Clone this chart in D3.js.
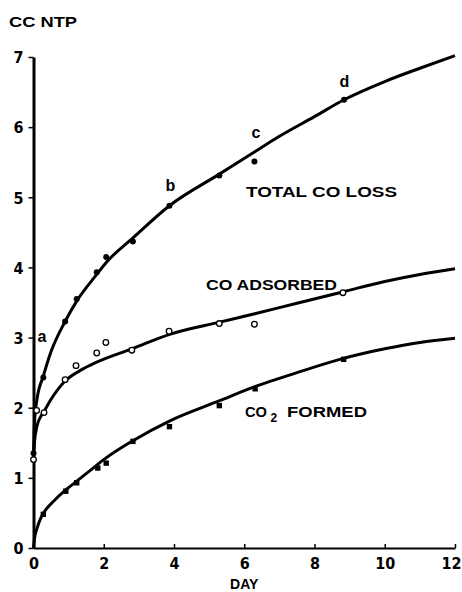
<!DOCTYPE html>
<html>
<head>
<meta charset="utf-8">
<script src="https://cdn.jsdelivr.net/npm/d3@7"></script>
<style>
  body { margin: 0; background: #fff; }
  svg { display: block; }
  .tick text { font-family: "Liberation Sans Narrow", "DejaVu Sans Condensed", "Arial Narrow", sans-serif; font-weight: bold; font-size: 16px; fill: #000; }
  .lbl { font-family: "Liberation Sans", Arial, sans-serif; font-weight: bold; fill: #000; }
</style>
</head>
<body>
<script>
'use strict';

// measured points (day, cc NTP)
var totalDays   = [0, 0.28, 0.9, 1.23, 1.8, 2.07, 2.83, 3.87, 5.29, 6.29, 8.84];
var totalValues = [1.35, 2.43, 3.23, 3.55, 3.93, 4.15, 4.37, 4.88, 5.31, 5.51, 6.39];

var adsorbedDays   = [0, 0.09, 0.3, 0.9, 1.21, 1.8, 2.06, 2.8, 3.86, 5.29, 6.29, 8.81];
var adsorbedValues = [1.26, 1.96, 1.93, 2.4, 2.6, 2.78, 2.93, 2.82, 3.09, 3.2, 3.19, 3.64];

var co2Days   = [0.28, 0.92, 1.23, 1.83, 2.07, 2.83, 3.87, 5.29, 6.31, 8.83];
var co2Values = [0.48, 0.81, 0.93, 1.14, 1.21, 1.52, 1.73, 2.03, 2.27, 2.69];

// smooth curves as drawn on the figure
var totalCurveDays   = [0, 0.03, 0.1, 0.28, 0.5, 0.9, 1.23, 1.8, 2.07, 2.83, 3.87, 5.29, 6.3, 7, 8, 8.84, 10, 11, 12];
var totalCurveValues = [1.3, 1.8, 2.12, 2.45, 2.8, 3.23, 3.52, 3.9, 4.07, 4.42, 4.88, 5.33, 5.65, 5.87, 6.15, 6.39, 6.65, 6.84, 7.02];

var adsorbedCurveDays   = [0, 0.03, 0.1, 0.2, 0.3, 0.5, 0.9, 1.4, 1.8, 2.8, 3.9, 5.3, 6.3, 7.5, 8.8, 10, 11, 12];
var adsorbedCurveValues = [1.3, 1.52, 1.74, 1.87, 1.95, 2.12, 2.38, 2.55, 2.65, 2.84, 3.05, 3.22, 3.34, 3.49, 3.65, 3.8, 3.9, 3.98];

var co2CurveDays   = [0, 0.03, 0.1, 0.2, 0.3, 0.6, 0.9, 1.25, 1.6, 2, 2.83, 3.87, 5.3, 6.3, 7.5, 8.8, 10, 11, 12];
var co2CurveValues = [0, 0.14, 0.28, 0.42, 0.51, 0.68, 0.82, 0.96, 1.1, 1.26, 1.53, 1.81, 2.1, 2.3, 2.5, 2.7, 2.84, 2.93, 2.99];

var xTicks = [0, 2, 4, 6, 8, 10, 12];
var yTicks = [0, 1, 2, 3, 4, 5, 6, 7];

// letters marked on the total curve
var markLetters = ['a', 'b', 'c', 'd'];
var markDays    = [0.24, 3.9, 6.33, 8.85];
var markValues  = [3.02, 5.17, 5.92, 6.65];

var W = 462, H = 592;

var svg = d3.select('body').append('svg')
    .attr('width', W).attr('height', H);

var x = d3.scaleLinear().domain([0, 12]).range([33.5, 455]);
var y = d3.scaleLinear().domain([0, 7]).range([548, 57]);

// x axis, ticks pointing up
var xAxis = svg.append('g')
    .attr('transform', 'translate(0,' + y(0) + ')')
    .call(d3.axisBottom(x).tickValues(xTicks).tickFormat(d3.format('d'))
        .tickSizeInner(-4).tickSizeOuter(0).tickPadding(9));
xAxis.select('.domain').attr('stroke', '#000').attr('stroke-width', 2);
xAxis.selectAll('.tick line').attr('stroke', '#000').attr('stroke-width', 1.5);
xAxis.selectAll('.tick text').attr('dy', '0.75em');
// last label sits a touch left so it stays inside the page
xAxis.selectAll('.tick text').filter(function (d) { return d === 12; }).attr('dx', -4);

// y axis, ticks pointing left
var yAxis = svg.append('g')
    .attr('transform', 'translate(' + x(0) + ',0)')
    .call(d3.axisLeft(y).tickValues(yTicks).tickFormat(d3.format('d'))
        .tickSizeInner(5).tickSizeOuter(0).tickPadding(5));
yAxis.select('.domain').attr('stroke', '#000').attr('stroke-width', 3);
yAxis.selectAll('.tick line').attr('stroke', '#000').attr('stroke-width', 1.5);
yAxis.selectAll('.tick text').attr('dy', '0.36em');

// curves
var line = d3.line()
    .x(function (d) { return x(d[0]); })
    .y(function (d) { return y(d[1]); })
    .curve(d3.curveMonotoneX);

[[totalCurveDays, totalCurveValues], [adsorbedCurveDays, adsorbedCurveValues], [co2CurveDays, co2CurveValues]]
    .forEach(function (c) {
        svg.append('path')
            .datum(d3.zip(c[0], c[1]))
            .attr('d', line)
            .attr('fill', 'none')
            .attr('stroke', '#000')
            .attr('stroke-width', 3);
    });

// total co loss: filled circles
svg.append('g').selectAll('circle')
    .data(d3.zip(totalDays, totalValues))
    .enter().append('circle')
    .attr('cx', function (d) { return x(d[0]); })
    .attr('cy', function (d) { return y(d[1]); })
    .attr('r', 3)
    .attr('fill', '#000');

// co adsorbed: open circles
svg.append('g').selectAll('circle')
    .data(d3.zip(adsorbedDays, adsorbedValues))
    .enter().append('circle')
    .attr('cx', function (d) { return x(d[0]); })
    .attr('cy', function (d) { return y(d[1]); })
    .attr('r', 2.8)
    .attr('fill', '#fff')
    .attr('stroke', '#000')
    .attr('stroke-width', 1.3);

// co2 formed: filled squares
svg.append('g').selectAll('rect')
    .data(d3.zip(co2Days, co2Values))
    .enter().append('rect')
    .attr('x', function (d) { return x(d[0]) - 2.7; })
    .attr('y', function (d) { return y(d[1]) - 2.7; })
    .attr('width', 5.4)
    .attr('height', 5.4)
    .attr('fill', '#000');

// a b c d
svg.append('g').selectAll('text')
    .data(d3.zip(markLetters, markDays, markValues))
    .enter().append('text')
    .attr('class', 'lbl')
    .attr('x', function (d) { return x(d[1]); })
    .attr('y', function (d) { return y(d[2]); })
    .attr('text-anchor', 'middle')
    .attr('dy', '0.35em')
    .style('font-size', '16px')
    .text(function (d) { return d[0]; });

// series labels
function label(txt, px, py, len) {
    svg.append('text')
        .attr('class', 'lbl')
        .attr('x', px).attr('y', py)
        .attr('textLength', len)
        .attr('lengthAdjust', 'spacingAndGlyphs')
        .style('font-size', '14px')
        .text(txt);
}
label('TOTAL  CO  LOSS', 246, 197, 151);
label('CO  ADSORBED', 206, 289.5, 131);

var co2 = svg.append('text').attr('class', 'lbl').style('font-size', '14px');
co2.append('tspan').attr('x', 245).attr('y', 416.5).attr('textLength', 22).attr('lengthAdjust', 'spacingAndGlyphs').text('CO');
co2.append('tspan').attr('x', 270.5).attr('y', 421.5).style('font-size', '12px').text('2');
co2.append('tspan').attr('x', 287).attr('y', 416.5).attr('textLength', 80).attr('lengthAdjust', 'spacingAndGlyphs').text('FORMED');

// axis titles
label('CC  NTP', 9, 26.5, 68);
svg.append('text')
    .attr('class', 'lbl')
    .attr('x', x(6)).attr('y', 589)
    .attr('text-anchor', 'middle')
    .style('font-size', '14px')
    .text('DAY');
</script>
</body>
</html>
